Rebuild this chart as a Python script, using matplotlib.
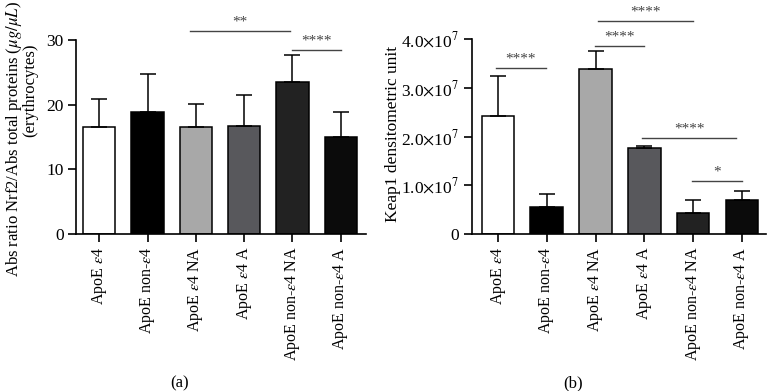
import matplotlib
matplotlib.use("Agg")
import matplotlib.pyplot as plt
from matplotlib.ticker import FuncFormatter

plt.rcParams['font.family'] = ['Liberation Serif', 'DejaVu Serif']
plt.rcParams['mathtext.fontset'] = 'stix'

categories = ["ApoE $\\varepsilon$4", "ApoE non-$\\varepsilon$4", "ApoE $\\varepsilon$4 NA",
              "ApoE $\\varepsilon$4 A", "ApoE non-$\\varepsilon$4 NA", "ApoE non-$\\varepsilon$4 A"]
colors = ["#ffffff", "#000000", "#a8a8a8", "#58585c", "#222222", "#0b0b0b"]

nrf2_mean = [16.6, 18.9, 16.6, 16.8, 23.5, 15.0]
nrf2_err = [4.3, 5.9, 3.6, 4.8, 4.3, 3.9]

keap1_mean = [2.43e7, 0.56e7, 3.39e7, 1.77e7, 0.43e7, 0.69e7]
keap1_err = [0.81e7, 0.27e7, 0.37e7, 0.04e7, 0.27e7, 0.20e7]

# significance brackets: (x1, x2, y, label)
sig_a = [(1.87, 3.94, 31.5, "**"), (3.99, 5.0, 28.5, "****")]
sig_b = [(-0.04, 0.98, 3.41e7, "****"), (1.99, 2.99, 3.87e7, "****"),
         (2.06, 3.99, 4.38e7, "****"), (2.95, 4.89, 1.98e7, "****"),
         (3.98, 5.0, 1.09e7, "*")]

fig = plt.figure(figsize=(7.67, 3.91), dpi=100)
axa = fig.add_axes([0.0991, 0.4015, 0.378, 0.495])
axb = fig.add_axes([0.615, 0.4015, 0.384, 0.498])

FS = 11.5
FSY = 12.5


def draw(ax, means, errs, ylim, sigs, xlim):
    x = list(range(len(means)))
    ax.bar(x, means, width=0.67, color=colors, edgecolor="black", linewidth=1.1, zorder=2)
    ax.errorbar(x, means, yerr=[[0] * len(errs), errs], fmt="none", ecolor="black",
                elinewidth=1.1, capsize=6, capthick=1.1, zorder=3)
    ax.set_xlim(*xlim)
    ax.set_ylim(*ylim)
    ax.set_xticks(x)
    ax.set_xticklabels(categories, rotation=90, fontsize=FS)
    for s in ["top", "right"]:
        ax.spines[s].set_visible(False)
    for s in ["left", "bottom"]:
        ax.spines[s].set_linewidth(1.2)
    ax.tick_params(axis="both", direction="out", length=6, width=1.2)
    ax.tick_params(axis="y", labelsize=FSY, pad=3)
    ax.tick_params(axis="x", labelsize=FS, pad=3)
    rng = ylim[1] - ylim[0]
    for x1, x2, y, lab in sigs:
        ax.plot([x1, x2], [y, y], color="#444444", lw=1.0, clip_on=False)
        ax.text((x1 + x2) / 2, y + rng * 0.012, lab, ha="center", va="bottom",
                fontsize=11, color="#444444", clip_on=False)


draw(axa, nrf2_mean, nrf2_err, (0, 30), sig_a, (-0.48, 5.52))
axa.set_yticks([0, 10, 20, 30])
fig.text(0.018, 0.645, "Abs ratio Nrf2/Abs total proteins ($\\mu g/\\mu L$)",
         rotation=90, ha="center", va="center", fontsize=12)
fig.text(0.040, 0.77, "(erythrocytes)", rotation=90, ha="center", va="center", fontsize=12)

draw(axb, keap1_mean, keap1_err, (0, 4e7), sig_b, (-0.54, 5.5))
axb.set_yticks([0, 1e7, 2e7, 3e7, 4e7])


def fmt(v, pos):
    if v == 0:
        return "0"
    e = 7
    return "%.1f$\\times$10$^{%d}$" % (v / 10 ** e, e)


axb.yaxis.set_major_formatter(FuncFormatter(fmt))
fig.text(0.5125, 0.657, "Keap1 densitometric unit", rotation=90, ha="center", va="center",
         fontsize=FSY)

fig.text(0.2347, 0.0205, "(a)", ha="center", va="center", fontsize=12)
fig.text(0.7467, 0.0205, "(b)", ha="center", va="center", fontsize=12)

fig.savefig("out.png", dpi=100)
